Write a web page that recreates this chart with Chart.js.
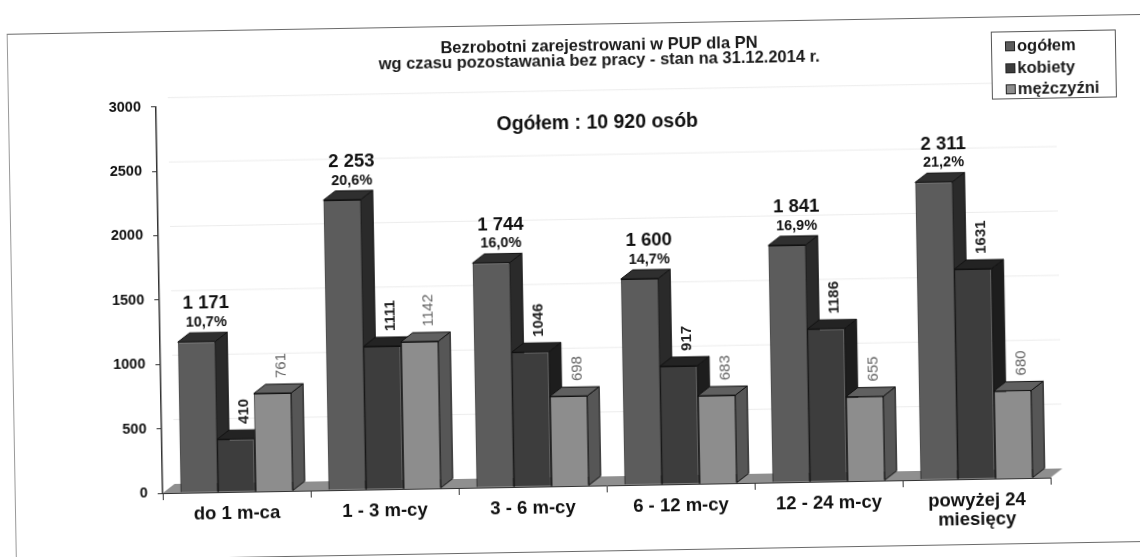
<!DOCTYPE html>
<html>
<head>
<meta charset="utf-8">
<title>Bezrobotni</title>
<script src="https://cdn.jsdelivr.net/npm/chart.js@4/dist/chart.umd.min.js"></script>
<style>
html, body { margin:0; padding:0; background:#fff; width:1140px; height:557px; overflow:hidden; }
#wrap { position:relative; width:1140px; height:557px; transform:rotate(-1deg); transform-origin:570px 278px; filter:blur(.45px); }
#frame { position:absolute; left:11px; top:24px; width:1170px; height:526px; border:1.5px solid #6a6a6a; border-right:none; border-left-color:#999; }
#chart { position:absolute; left:0; top:0; }
#legend { position:absolute; left:995px; top:39px; width:125px; height:68px; border:1px solid #555; background:#fff; box-sizing:border-box; padding:3px 0 0 13px; font:bold 16.5px "Liberation Sans", Arial, sans-serif; color:#1a1a1a; }
#legend div { height:21.5px; line-height:21.5px; white-space:nowrap; }
#legend i { display:inline-block; width:8px; height:8px; border:1px solid #222; margin-right:2px; }
</style>
</head>
<body>
<div id="wrap">
  <div id="frame"></div>
  <canvas id="chart" width="1140" height="557"></canvas>
  <div id="legend"></div>
</div>
<script>
var categories = ["do 1 m-ca", "1 - 3 m-cy", "3 - 6 m-cy", "6 - 12 m-cy", "12 - 24 m-cy", ["powyżej 24", "miesięcy"]];
var ogolem = [1171, 2253, 1744, 1600, 1841, 2311];
var kobiety = [410, 1111, 1046, 917, 1186, 1631];
var mezczyzni = [761, 1142, 698, 683, 655, 680];
var procenty = ["10,7%", "20,6%", "16,0%", "14,7%", "16,9%", "21,2%"];
var seriesNames = ["ogółem", "kobiety", "mężczyźni"];
var frontColors = ["#5c5c5c", "#3d3d3d", "#8d8d8d"];
var sideColors = ["#2a2a2a", "#1d1d1d", "#565656"];
var topColors = ["#2f2f2f", "#232323", "#606060"];
var labelColors = ["#111", "#222", "#666"];

var depthX = 12, depthY = 9;
var font = '"Liberation Sans", Arial, sans-serif';
var narrow = '"Liberation Sans Narrow", "Liberation Sans", Arial, sans-serif';

function spaced(v) {
    return String(v).replace(/\B(?=(\d{3})+$)/g, " ");
}

function poly(ctx, pts, fill) {
    ctx.beginPath();
    ctx.moveTo(pts[0][0], pts[0][1]);
    for (var i = 1; i < pts.length; i++) ctx.lineTo(pts[i][0], pts[i][1]);
    ctx.closePath();
    ctx.fillStyle = fill;
    ctx.fill();
    ctx.strokeStyle = "#111";
    ctx.lineWidth = 1;
    ctx.stroke();
}

var bars3d = {
    id: "bars3d",
    beforeDatasetsDraw: function(chart) {
        var ctx = chart.ctx, a = chart.chartArea, y = chart.scales.y;
        ctx.save();
        // back wall lines
        ctx.strokeStyle = "#ececec";
        ctx.lineWidth = 1;
        y.ticks.forEach(function(t) {
            if (t.value == 0) return;
            var py = y.getPixelForValue(t.value) - depthY;
            ctx.beginPath();
            ctx.moveTo(a.left + depthX, py);
            ctx.lineTo(a.right + depthX, py);
            ctx.stroke();
        });
        // floor
        var b = y.getPixelForValue(0);
        ctx.beginPath();
        ctx.moveTo(a.left, b);
        ctx.lineTo(a.left + depthX, b - depthY);
        ctx.lineTo(a.right + depthX, b - depthY);
        ctx.lineTo(a.right, b);
        ctx.closePath();
        ctx.fillStyle = "#8f8f8f";
        ctx.fill();
        // sides and tops left to right, the library paints the fronts over them
        chart.data.datasets.forEach(function(ds, i) {
            chart.getDatasetMeta(i).data.forEach(function(bar) {
                var l = bar.x - bar.width / 2, r = bar.x + bar.width / 2;
                poly(ctx, [[r, bar.y], [r + depthX, bar.y - depthY], [r + depthX, bar.base - depthY], [r, bar.base]], sideColors[i]);
                poly(ctx, [[l, bar.y], [l + depthX, bar.y - depthY], [r + depthX, bar.y - depthY], [r, bar.y]], topColors[i]);
            });
        });
        ctx.restore();
    },
    afterDatasetsDraw: function(chart) {
        var ctx = chart.ctx, a = chart.chartArea;
        ctx.save();
        ctx.textAlign = "center";
        ctx.textBaseline = "middle";
        chart.getDatasetMeta(0).data.forEach(function(bar, k) {
            var x = bar.x + 10, top = bar.y - depthY;
            ctx.fillStyle = "#111";
            ctx.font = "bold 18.5px " + font;
            ctx.fillText(spaced(ogolem[k]), x, top - 29);
            ctx.font = "bold 14.5px " + font;
            ctx.fillText(procenty[k], x, top - 10);
        });
        [1, 2].forEach(function(i) {
            chart.getDatasetMeta(i).data.forEach(function(bar, k) {
                ctx.save();
                ctx.translate(bar.x + 9, bar.y - depthY - 6);
                ctx.rotate(-Math.PI / 2);
                ctx.textAlign = "left";
                ctx.fillStyle = labelColors[i];
                ctx.font = (i == 1 ? "bold " : "") + "15px " + narrow;
                ctx.fillText(chart.data.datasets[i].data[k], 0, 0);
                ctx.restore();
            });
        });
        ctx.fillStyle = "#111";
        ctx.font = "bold 19.5px " + font;
        ctx.fillText("Ogółem : 10 920 osób", (a.left + a.right) / 2 - 3, a.top + 24);
        ctx.restore();
    }
};

var legendBox = document.getElementById("legend");
seriesNames.forEach(function(name, i) {
    var row = document.createElement("div");
    row.innerHTML = '<i style="background:' + frontColors[i] + '"></i>' + name;
    legendBox.appendChild(row);
});

new Chart(document.getElementById("chart"), {
    type: "bar",
    plugins: [bars3d],
    data: {
        labels: categories,
        datasets: [
            { label: seriesNames[0], data: ogolem, backgroundColor: frontColors[0] },
            { label: seriesNames[1], data: kobiety, backgroundColor: frontColors[1] },
            { label: seriesNames[2], data: mezczyzni, backgroundColor: frontColors[2] }
        ]
    },
    options: {
        responsive: false,
        animation: false,
        layout: { padding: { left: 0, right: 93, top: 0, bottom: 0 } },
        datasets: {
            bar: { categoryPercentage: 0.76, barPercentage: 1, borderWidth: 1, borderColor: "#111" }
        },
        plugins: {
            legend: { display: false },
            tooltip: { enabled: false },
            title: {
                display: true,
                fullSize: false,
                text: ["Bezrobotni zarejestrowani w PUP dla PN", "wg czasu pozostawania bez pracy - stan na 31.12.2014 r."],
                color: "#1a1a1a",
                font: { family: font, size: 16.5, weight: "bold", lineHeight: 0.9 },
                padding: { top: 39, bottom: 31 }
            }
        },
        scales: {
            x: {
                afterFit: function(s) { s.height = 71; },
                grid: { drawOnChartArea: false, tickLength: 7, tickColor: "#333" },
                border: { color: "#333", width: 1 },
                ticks: {
                    color: "#111",
                    padding: 5,
                    maxRotation: 0,
                    autoSkip: false,
                    font: { family: font, size: 18.5, weight: "bold", lineHeight: 1.05 }
                }
            },
            y: {
                min: 0,
                max: 3000,
                afterFit: function(s) { s.width = 159; },
                grid: { drawOnChartArea: false, tickLength: 5, tickColor: "#333" },
                border: { color: "#333", width: 1.5 },
                ticks: {
                    stepSize: 500,
                    color: "#111",
                    padding: 10,
                    font: { family: font, size: 14.5, weight: "bold" },
                    callback: function(v) { return v; }
                }
            }
        }
    }
});
</script>
</body>
</html>
